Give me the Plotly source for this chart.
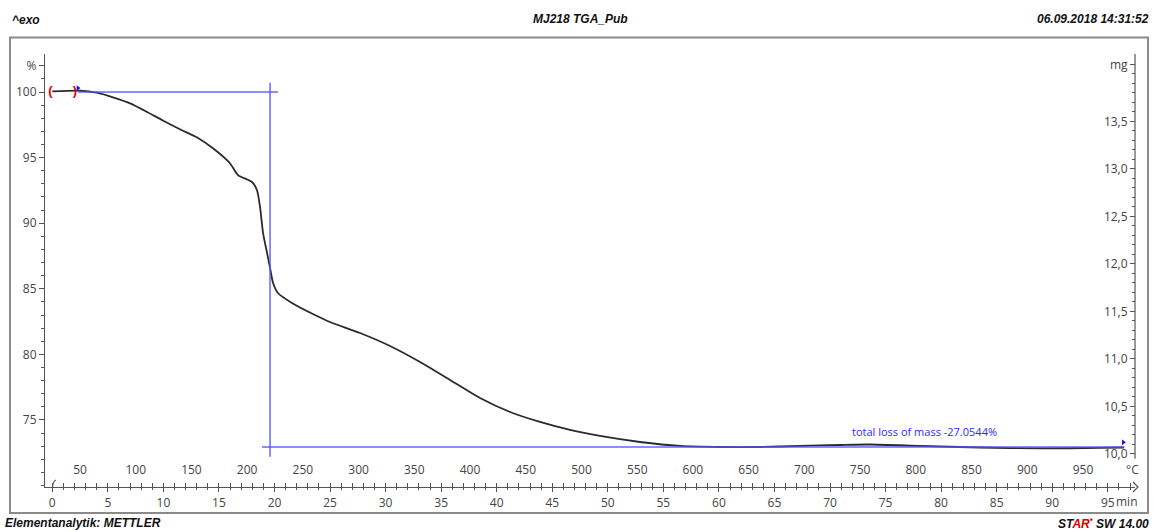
import numpy as np
import plotly.graph_objects as go

# TGA run MJ218: relative mass (%) against time (min), heating ~10 K/min
time_min = [0.0, 2.49, 4.0, 5.46, 7.0, 8.5, 9.99, 11.49, 13.0, 14.46, 15.99, 16.71,
            17.98, 18.42, 18.7, 18.97, 19.33, 19.6, 19.87, 20.31, 21.57, 23.64, 24.99,
            27.7, 30.4, 33.1, 35.8, 38.5, 41.2, 43.9, 46.6, 49.3, 52.9, 56.5, 60.1,
            63.7, 67.3, 70.9, 73.6, 78.1, 83.5, 88.9, 94.3, 96.45]
mass_pct = [100.05, 100.1, 99.95, 99.6, 99.14, 98.5, 97.81, 97.16, 96.55, 95.71, 94.57, 93.67,
            93.14, 92.53, 91.23, 89.25, 87.73, 86.59, 85.44, 84.68, 83.92, 83.0, 82.47,
            81.63, 80.64, 79.42, 78.05, 76.68, 75.61, 74.85, 74.24, 73.78, 73.32, 73.02, 72.94,
            72.94, 73.02, 73.09, 73.13, 73.02, 72.9, 72.83, 72.87, 72.9]

# step evaluation
initial_mass_mg = 13.81
total_loss_pct = -27.0544
upper_level = 100.0
lower_level = upper_level + total_loss_pct
limit_times = [-0.16, 2.04]
upper_line_t = [2.31, 20.31]
lower_line_t = [18.87, 96.5]
step_t = 19.6
step_span = [100.7, 72.2]
flag_t = [2.31, 96.4]
flag_pct = [100.3, 73.3]

pct_ticks = [75, 80, 85, 90, 95, 100, 102]
pct_ticktext = ["75", "80", "85", "90", "95", "100", "%"]
mg_ticks = [10.0, 10.5, 11.0, 11.5, 12.0, 12.5, 13.0, 13.5, 14.1]
mg_ticktext = ["10,0", "10,5", "11,0", "11,5", "12,0", "12,5", "13,0", "13,5", "mg"]

t_range = [-0.657, 97.45]
temp_range = [18.6, 996.7]
pct_range = [69.89, 102.9]
mg_range = [v * initial_mass_mg / 100 for v in pct_range]

tick_font = dict(family="Open Sans", size=12, color="#444")
head_font = dict(family="Liberation Sans", size=12, color="#111", weight="bold", style="italic")
axis_col = "#555"
eval_blue = "rgba(85,85,255,0.9)"

fig = go.Figure()

fig.add_trace(go.Scatter(x=time_min, y=mass_pct, mode="lines",
                         line=dict(color="#2b2b2b", width=1.8, shape="spline", smoothing=0.6),
                         hoverinfo="skip"))
fig.add_trace(go.Scatter(x=upper_line_t, y=[upper_level] * 2, mode="lines",
                         line=dict(color=eval_blue, width=1.5), hoverinfo="skip"))
fig.add_trace(go.Scatter(x=[step_t, step_t], y=step_span, mode="lines",
                         line=dict(color=eval_blue, width=1.5), hoverinfo="skip"))
fig.add_trace(go.Scatter(x=lower_line_t, y=[lower_level] * 2, mode="lines",
                         line=dict(color=eval_blue, width=1.5), hoverinfo="skip"))
fig.add_trace(go.Scatter(x=limit_times, y=[upper_level] * 2, mode="text", text=["(", ")"],
                         textfont=dict(family="Liberation Sans", size=13, color="#e00000", weight="bold"),
                         hoverinfo="skip"))
fig.add_trace(go.Scatter(x=flag_t, y=flag_pct, mode="markers",
                         marker=dict(symbol="triangle-right", size=5, color="#1010ee"),
                         hoverinfo="skip"))
# companion axes (temperature, mass in mg, crossing ticks)
fig.add_trace(go.Scatter(x=[None], y=[None], xaxis="x2", yaxis="y", hoverinfo="skip"))
fig.add_trace(go.Scatter(x=[None], y=[None], xaxis="x", yaxis="y2", hoverinfo="skip"))
fig.add_trace(go.Scatter(x=[None], y=[None], xaxis="x3", yaxis="y", hoverinfo="skip"))

fig.add_annotation(x=78.5, y=lower_level + 1.15, xref="x", yref="y",
                   text=f"total loss of mass {total_loss_pct:.4f}%", showarrow=False,
                   yanchor="middle", font=dict(family="Open Sans", size=11, color="#2a2aff"))

W, H = 1155, 532
ml, mr, mt, mb = 45, 20, 54, 45
pw, ph = W - ml - mr, H - mt - mb


def px(xp):
    return (xp - ml) / pw


def py(yp):
    return (H - mb - yp) / ph


def label(xp, yp, text, anchor, font):
    fig.add_annotation(x=px(xp), y=py(yp), xref="paper", yref="paper", text=text,
                       xanchor=anchor, yanchor="middle", showarrow=False, font=font)


# header / footer
label(10, 20, "^exo", "left", head_font)
label(580, 19, "MJ218 TGA_Pub", "center", head_font)
label(1151, 19, "06.09.2018 14:31:52", "right", head_font)
label(3, 523, "Elementanalytik: METTLER", "left", head_font)
label(1151, 523, "ST<span style='color:#d40000'>AR</span><sup><span style='color:#d40000'>•</span></sup> SW 14.00",
      "right", head_font)
label(1124, 469, "°C", "left", tick_font)
label(1114, 501, "min", "left", tick_font)

# outer frame
fig.add_shape(type="rect", xref="paper", yref="paper", x0=px(10), x1=px(1148), y0=py(513), y1=py(37.5),
              line=dict(color="#8a8a8a", width=2))
# right mass axis line
fig.add_shape(type="line", xref="paper", yref="y2", x0=1, x1=1, y0=9.95, y1=mg_range[1],
              line=dict(color=axis_col, width=1.2))
# arrow head at the end of the time axis
fig.add_shape(type="path", xref="paper", yref="paper",
              path=f"M {px(1133)} {py(482)} L {px(1138)} {py(487)} L {px(1133)} {py(492)}",
              line=dict(color=axis_col, width=1.2))
# hook at the start of the time axis
fig.add_shape(type="path", xref="paper", yref="paper",
              path=f"M {px(52.5)} {py(487)} Q {px(53)} {py(481)} {px(56)} {py(480)}",
              line=dict(color=axis_col, width=1.2))

fig.update_layout(
    width=W, height=H, autosize=False,
    margin=dict(l=ml, r=mr, t=mt, b=mb),
    paper_bgcolor="white", plot_bgcolor="white",
    showlegend=False, separators=",.",
    xaxis=dict(range=t_range, showline=True, linecolor=axis_col, linewidth=1.2,
               ticks="outside", ticklen=4, tickcolor=axis_col, tickwidth=1.2,
               tick0=0, dtick=5, tickfont=tick_font, showgrid=False, zeroline=False,
               minor=dict(dtick=1, ticks="outside", ticklen=2, tickcolor=axis_col),
               anchor="y"),
    xaxis3=dict(range=t_range, overlaying="x", anchor="y", side="bottom",
                ticks="inside", ticklen=4, tickcolor=axis_col, tick0=0, dtick=1,
                showticklabels=False, showline=False, showgrid=False, zeroline=False),
    xaxis2=dict(range=temp_range, overlaying="x", anchor="free", position=py(461), side="bottom",
                tick0=0, dtick=50, ticks="", showline=False, showgrid=False, zeroline=False,
                tickfont=tick_font),
    yaxis=dict(range=pct_range, showline=True, linecolor=axis_col, linewidth=1.2,
               ticks="outside", ticklen=5, tickcolor=axis_col,
               tickvals=pct_ticks, ticktext=pct_ticktext, tickfont=tick_font,
               minor=dict(dtick=1, tick0=0, ticks="outside", ticklen=3, tickcolor=axis_col),
               showgrid=False, zeroline=False),
    yaxis2=dict(range=mg_range, overlaying="y", side="left", anchor="free", position=1.0,
                ticks="outside", ticklen=5, tickcolor=axis_col,
                tickvals=mg_ticks, ticktext=mg_ticktext, tickfont=tick_font,
                minor=dict(tickmode="array", tickvals=list(np.round(np.arange(10.0, 14.15, 0.1), 1)),
                           ticks="outside", ticklen=3, tickcolor=axis_col),
                showline=False, showgrid=False, zeroline=False),
)

fig.write_html("out.html")
